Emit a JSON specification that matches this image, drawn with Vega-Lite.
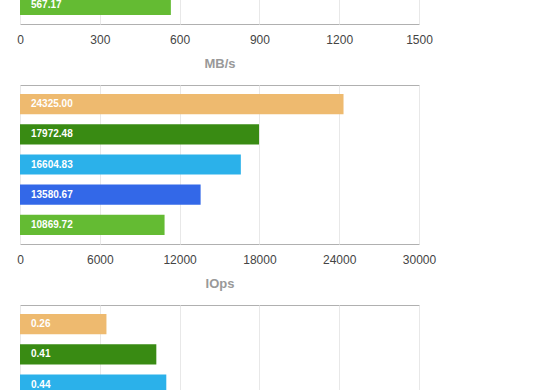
{
  "$schema": "https://vega.github.io/schema/vega-lite/v6.json",
  "padding": {"left": 7, "top": -136, "right": 0, "bottom": 0},
  "autosize": {"type": "pad"},
  "bounds": "flush",
  "spacing": 61,
  "background": "white",
  "config": {
    "view": {"stroke": "#b0b0b0", "strokeWidth": 1},
    "font": "Liberation Sans",
    "axisX": {
      "grid": true,
      "gridColor": "#e8e8e8",
      "domain": false,
      "ticks": false,
      "labelFlush": false,
      "format": "d",
      "labelFontSize": 12,
      "labelColor": "#444444",
      "labelPadding": 10,
      "labelFont": "Liberation Sans",
      "titleColor": "#999999",
      "titleFontSize": 13,
      "titleFontWeight": "bold",
      "titlePadding": 12,
      "titleFont": "Liberation Sans"
    }
  },
  "datasets": {
    "mbs": [
      {"item": "Drive E", "value": 567.17}
    ],
    "iops": [
      {"item": "Drive A", "value": 24325.00},
      {"item": "Drive B", "value": 17972.48},
      {"item": "Drive C", "value": 16604.83},
      {"item": "Drive D", "value": 13580.67},
      {"item": "Drive E", "value": 10869.72}
    ],
    "lat": [
      {"item": "Drive A", "value": 0.26},
      {"item": "Drive B", "value": 0.41},
      {"item": "Drive C", "value": 0.44}
    ]
  },
  "vconcat": [
    {
      "width": 399,
      "height": 159,
      "data": {"name": "mbs"},
      "encoding": {
        "y": {"field": "item", "type": "nominal", "axis": null,
              "scale": {"domain": ["Drive A", "Drive B", "Drive C", "Drive D", "Drive E"], "paddingInner": 0.333, "paddingOuter": 0.3}}
      },
      "layer": [
        {
          "mark": {"type": "bar"},
          "encoding": {
            "x": {"field": "value", "type": "quantitative", "title": "MB/s",
                  "scale": {"domain": [0, 1500], "nice": false},
                  "axis": {"values": [0, 300, 600, 900, 1200, 1500]}},
            "color": {"field": "item", "type": "nominal", "legend": null,
                      "scale": {"domain": ["Drive A", "Drive B", "Drive C", "Drive D", "Drive E"],
                                "range": ["#EEBA6F", "#398B13", "#2BB1EA", "#3368E8", "#64BB33"]}}
          }
        },
        {
          "mark": {"type": "text", "align": "left", "baseline": "middle", "dx": 11, "color": "white", "fontSize": 10, "fontWeight": "bold"},
          "encoding": {
            "x": {"datum": 0, "type": "quantitative"},
            "text": {"field": "value", "type": "quantitative", "format": ".2f"}
          }
        }
      ]
    },
    {
      "width": 399,
      "height": 159,
      "data": {"name": "iops"},
      "encoding": {
        "y": {"field": "item", "type": "nominal", "axis": null,
              "scale": {"domain": ["Drive A", "Drive B", "Drive C", "Drive D", "Drive E"], "paddingInner": 0.333, "paddingOuter": 0.3}}
      },
      "layer": [
        {
          "mark": {"type": "bar"},
          "encoding": {
            "x": {"field": "value", "type": "quantitative", "title": "IOps",
                  "scale": {"domain": [0, 30000], "nice": false},
                  "axis": {"values": [0, 6000, 12000, 18000, 24000, 30000]}},
            "color": {"field": "item", "type": "nominal", "legend": null,
                      "scale": {"domain": ["Drive A", "Drive B", "Drive C", "Drive D", "Drive E"],
                                "range": ["#EEBA6F", "#398B13", "#2BB1EA", "#3368E8", "#64BB33"]}}
          }
        },
        {
          "mark": {"type": "text", "align": "left", "baseline": "middle", "dx": 11, "color": "white", "fontSize": 10, "fontWeight": "bold"},
          "encoding": {
            "x": {"datum": 0, "type": "quantitative"},
            "text": {"field": "value", "type": "quantitative", "format": ".2f"}
          }
        }
      ]
    },
    {
      "width": 399,
      "height": 159,
      "data": {"name": "lat"},
      "encoding": {
        "y": {"field": "item", "type": "nominal", "axis": null,
              "scale": {"domain": ["Drive A", "Drive B", "Drive C", "Drive D", "Drive E"], "paddingInner": 0.333, "paddingOuter": 0.3}}
      },
      "layer": [
        {
          "mark": {"type": "bar"},
          "encoding": {
            "x": {"field": "value", "type": "quantitative", "title": "ms",
                  "scale": {"domain": [0, 1.2], "nice": false},
                  "axis": {"values": [0, 0.24, 0.48, 0.72, 0.96, 1.2], "format": ".2f"}},
            "color": {"field": "item", "type": "nominal", "legend": null,
                      "scale": {"domain": ["Drive A", "Drive B", "Drive C", "Drive D", "Drive E"],
                                "range": ["#EEBA6F", "#398B13", "#2BB1EA", "#3368E8", "#64BB33"]}}
          }
        },
        {
          "mark": {"type": "text", "align": "left", "baseline": "middle", "dx": 11, "color": "white", "fontSize": 10, "fontWeight": "bold"},
          "encoding": {
            "x": {"datum": 0, "type": "quantitative"},
            "text": {"field": "value", "type": "quantitative", "format": ".2f"}
          }
        }
      ]
    }
  ]
}
